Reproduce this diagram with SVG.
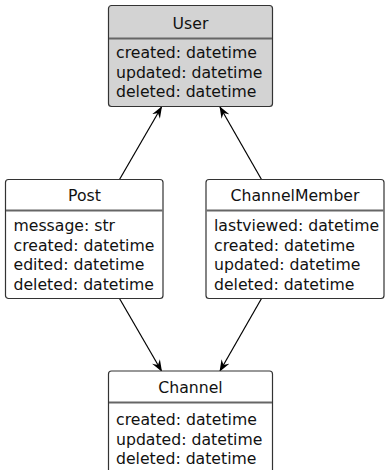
<svg xmlns="http://www.w3.org/2000/svg" width="386" height="470" viewBox="0 0 386 470">
<defs>
<style>
.box{fill:#ffffff;stroke:#333333;stroke-width:1.2}
.gray{fill:#d3d3d3}
.div{stroke:#666666;stroke-width:2}
.t{font-family:"DejaVu Sans",sans-serif;font-size:15.7px;fill:#111111}
.c{text-anchor:middle}
.edge{stroke:#000000;stroke-width:1.2;fill:none;marker-end:url(#arr)}
</style>
<marker id="arr" viewBox="0 0 12 10" refX="11" refY="5" markerWidth="12" markerHeight="10" markerUnits="userSpaceOnUse" orient="auto">
<path d="M0,0.5 L12,5 L0,9.5 L4,5 Z" fill="#000000"/>
</marker>
</defs>
<rect width="386" height="470" fill="#ffffff"/>
<g id="connectors">
<line class="edge" x1="119.5" y1="179.5" x2="161.5" y2="107"/>
<line class="edge" x1="261.5" y1="179.5" x2="220" y2="107"/>
<line class="edge" x1="119.5" y1="298.5" x2="161.5" y2="371"/>
<line class="edge" x1="261.5" y1="298.5" x2="220" y2="371"/>
</g>
<g id="User">
<rect class="box gray" x="108.5" y="5.5" width="164" height="101" rx="3"/>
<line class="div" x1="109" y1="38.5" x2="272" y2="38.5"/>
<text class="t c" x="190.5" y="28.5">User</text>
<text class="t" x="116" y="58">created: datetime</text>
<text class="t" x="116" y="77.5">updated: datetime</text>
<text class="t" x="116" y="97">deleted: datetime</text>
</g>
<g id="Post">
<rect class="box" x="5.5" y="179.5" width="157.5" height="119" rx="3"/>
<line class="div" x1="6" y1="210.5" x2="162.5" y2="210.5"/>
<text class="t c" x="84.5" y="201">Post</text>
<text class="t" x="13.5" y="231">message: str</text>
<text class="t" x="13.5" y="250.5">created: datetime</text>
<text class="t" x="13.5" y="270">edited: datetime</text>
<text class="t" x="13.5" y="289.5">deleted: datetime</text>
</g>
<g id="ChannelMember">
<rect class="box" x="206" y="179.5" width="178" height="119" rx="3"/>
<line class="div" x1="206.5" y1="210.5" x2="383.5" y2="210.5"/>
<text class="t c" x="295" y="201">ChannelMember</text>
<text class="t" x="214" y="231">lastviewed: datetime</text>
<text class="t" x="214" y="250.5">created: datetime</text>
<text class="t" x="214" y="270">updated: datetime</text>
<text class="t" x="214" y="289.5">deleted: datetime</text>
</g>
<g id="Channel">
<rect class="box" x="108.5" y="371" width="164" height="110" rx="3"/>
<line class="div" x1="109" y1="402.5" x2="272" y2="402.5"/>
<text class="t c" x="190.5" y="392.5">Channel</text>
<text class="t" x="116" y="425">created: datetime</text>
<text class="t" x="116" y="444.5">updated: datetime</text>
<text class="t" x="116" y="464">deleted: datetime</text>
</g>
</svg>
